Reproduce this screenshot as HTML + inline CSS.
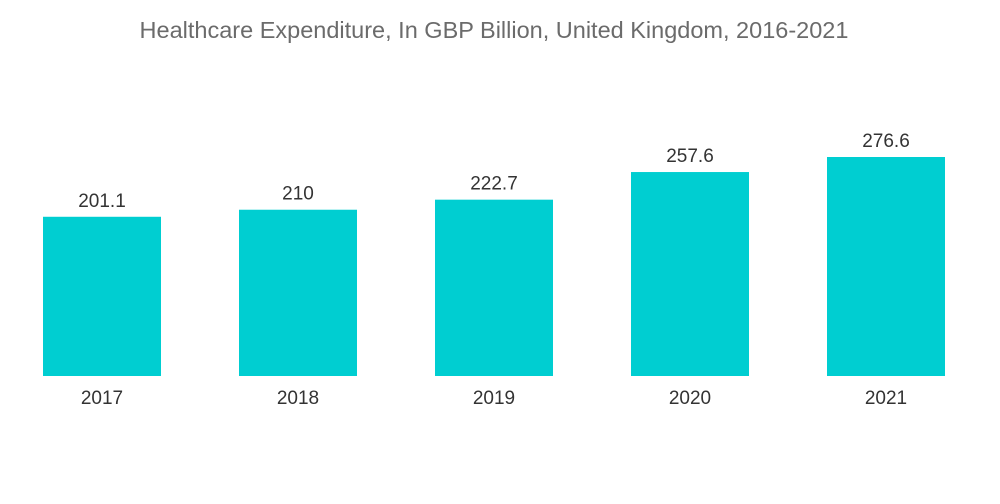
<!DOCTYPE html>
<html><head><meta charset="utf-8"><style>
body{margin:0;background:#fff;}
svg{display:block;font-family:"Liberation Sans",sans-serif;}
</style></head><body>
<svg id="chart" width="1000" height="504">
<text x="494" y="38" text-anchor="middle" font-size="23.5" fill="#6b6b6b">Healthcare Expenditure, In GBP Billion, United Kingdom, 2016-2021</text>
<g id="bars"></g>
</svg>
<script>
const categories=["2017","2018","2019","2020","2021"];
const values=[201.1,210,222.7,257.6,276.6];
const valueLabels=["201.1","210","222.7","257.6","276.6"];
const baseY=376, scale=219/276.6, startX=43, step=196, bw=118;
function yPos(v){return baseY-v*scale;}
function xPos(i){return startX+i*step;}
const g=document.getElementById('bars');
const ns='http://www.w3.org/2000/svg';
categories.forEach((c,i)=>{
 const r=document.createElementNS(ns,'rect');
 r.setAttribute('x',xPos(i));r.setAttribute('y',yPos(values[i]));
 r.setAttribute('width',bw);r.setAttribute('height',baseY-yPos(values[i]));
 r.setAttribute('fill','#00ced1');
 
 
 g.appendChild(r);
 const t=document.createElementNS(ns,'text');
 t.setAttribute('x',xPos(i)+bw/2);t.setAttribute('y',yPos(values[i])-10);
 t.setAttribute('text-anchor','middle');t.setAttribute('font-size','19');t.setAttribute('fill','#333');
 t.textContent=valueLabels[i];
 
 
 g.appendChild(t);
 const x=document.createElementNS(ns,'text');
 x.setAttribute('x',xPos(i)+bw/2);x.setAttribute('y',404);
 x.setAttribute('text-anchor','middle');x.setAttribute('font-size','19');x.setAttribute('fill','#333');
 x.textContent=c;
 
 
 g.appendChild(x);
});
</script>
</body></html>
